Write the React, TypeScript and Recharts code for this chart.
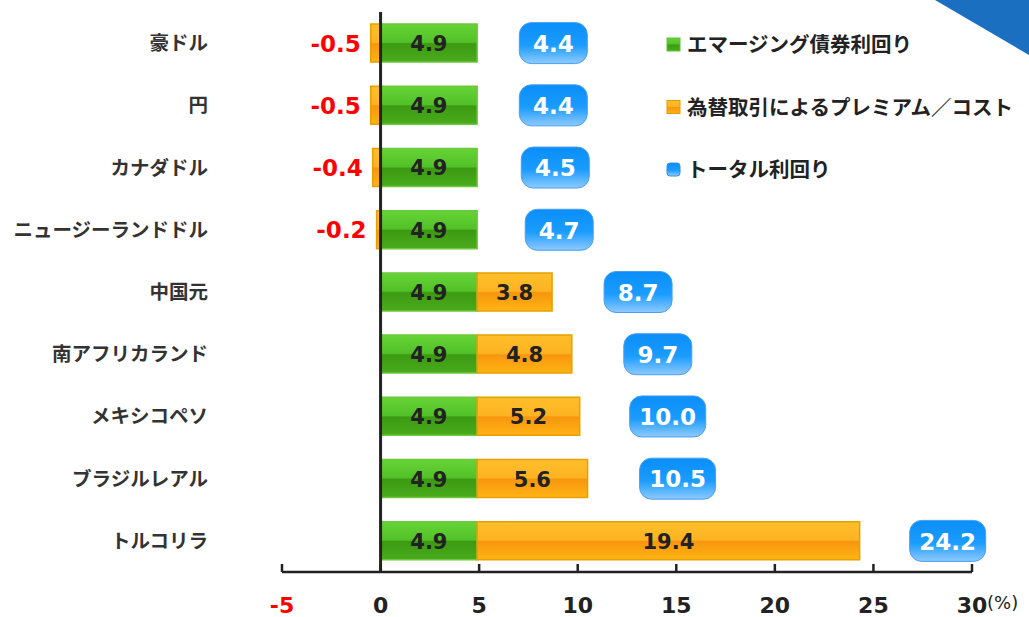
import React from 'react';
import { ComposedChart, Bar, XAxis, YAxis, ReferenceLine, LabelList, Scatter } from 'recharts';

const categories = ['豪ドル', '円', 'カナダドル', 'ニュージーランドドル', '中国元', '南アフリカランド', 'メキシコペソ', 'ブラジルレアル', 'トルコリラ'];
const bondYield = [4.9, 4.9, 4.9, 4.9, 4.9, 4.9, 4.9, 4.9, 4.9];
const fxPremium = [-0.5, -0.5, -0.4, -0.2, 3.8, 4.8, 5.2, 5.6, 19.4];
const totalYield = [4.4, 4.4, 4.5, 4.7, 8.7, 9.7, 10.0, 10.5, 24.2];
const xTicks = [-5, 0, 5, 10, 15, 20, 25, 30];
const seriesNames = ['エマージング債券利回り', '為替取引によるプレミアム／コスト', 'トータル利回り'];

const data = categories.map((name, i) => ({
  name,
  bond: bondYield[i],
  fx: fxPremium[i],
  total: totalYield[i],
}));

const FONT = "'DejaVu Sans', 'Noto Sans CJK JP', sans-serif";
const JFONT = "'Noto Sans CJK JP', sans-serif";

const YTick = (props: any) => {
  const { x, y, payload } = props;
  return (
    <text x={x} y={y} dy="0.36em" textAnchor="end" fontFamily={JFONT} fontWeight={700} fontSize={19.5} fill="#333">
      {payload.value}
    </text>
  );
};

const XTick = (props: any) => {
  const { x, y, payload } = props;
  const v = payload.value;
  return (
    <g>
      <line x1={x} x2={x} y1={y - 8} y2={y} stroke="#222" strokeWidth={2.5} />
      <text x={x} y={y + 33} dy="0.36em" textAnchor="middle" fontFamily={FONT} fontWeight={700} fontSize={22} fill={v < 0 ? '#ff0000' : '#222'}>
        {v}
      </text>
    </g>
  );
};

const BondLabel = (props: any) => {
  const { x, y, width, height, value } = props;
  return (
    <text x={x + width / 2} y={y + height / 2} dy="0.38em" textAnchor="middle" fontFamily={FONT} fontWeight={700} fontSize={21} fill="#222">
      {Number(value).toFixed(1)}
    </text>
  );
};

const FxLabel = (props: any) => {
  const { x, y, width, height, value } = props;
  const left = Math.min(x, x + width);
  if (value < 0) {
    return (
      <text x={left - 10} y={y + height / 2} dy="0.38em" textAnchor="end" fontFamily={FONT} fontWeight={700} fontSize={23} fill="#ff0000">
        {Number(value).toFixed(1)}
      </text>
    );
  }
  return (
    <text x={x + width / 2} y={y + height / 2} dy="0.38em" textAnchor="middle" fontFamily={FONT} fontWeight={700} fontSize={21} fill="#222">
      {Number(value).toFixed(1)}
    </text>
  );
};

const TotalShape = (props: any) => {
  const { cx, cy, payload } = props;
  if (cx == null || cy == null) return null;
  const label = Number(payload.total).toFixed(1);
  const w = label.length > 3 ? 76 : 68;
  const h = 41;
  const left = cx + 52;
  return (
    <g>
      <rect x={left} y={cy - h / 2} width={w} height={h} rx={12} ry={12} fill="url(#gBlue)" stroke="#4a9ff0" strokeWidth={1} />
      <text x={left + w / 2} y={cy} dy="0.38em" textAnchor="middle" fontFamily={FONT} fontWeight={700} fontSize={23} fill="#fff">
        {label}
      </text>
    </g>
  );
};

const Gradients = () => (
  <defs>
    <linearGradient id="gGreen" x1="0" y1="0" x2="0" y2="1">
      <stop offset="0%" stopColor="#66d436" />
      <stop offset="48%" stopColor="#52c128" />
      <stop offset="52%" stopColor="#3c9a12" />
      <stop offset="100%" stopColor="#4aab1c" />
    </linearGradient>
    <linearGradient id="gOrange" x1="0" y1="0" x2="0" y2="1">
      <stop offset="0%" stopColor="#ffbf2a" />
      <stop offset="48%" stopColor="#fdb322" />
      <stop offset="52%" stopColor="#f8960e" />
      <stop offset="100%" stopColor="#ffb414" />
    </linearGradient>
    <linearGradient id="gBlue" x1="0" y1="0" x2="0" y2="1">
      <stop offset="0%" stopColor="#0a8ef8" />
      <stop offset="55%" stopColor="#1a9cff" />
      <stop offset="100%" stopColor="#8fcaff" />
    </linearGradient>
  </defs>
);

const LegendOverlay = () => {
  const fills = ['url(#gGreen)', 'url(#gOrange)', 'url(#gBlue)'];
  const strokes = ['#5fc234', '#e39c00', '#3a8ee0'];
  return (
    <g transform="translate(666, 37)">
      {seriesNames.map((n, i) => (
        <g key={n} transform={`translate(0, ${i * 62.5})`}>
          <rect x={1} y={1} width={13} height={13} rx={i === 2 ? 3 : 0} fill={fills[i]} stroke={strokes[i]} strokeWidth={1} />
          <text x={21} y={8} dy="0.36em" fontFamily={JFONT} fontWeight={700} fontSize={20.5} fill="#222">{n}</text>
        </g>
      ))}
    </g>
  );
};

export default function App() {
  return (
    <div style={{ position: 'absolute', left: 0, top: 0, width: 1029, height: 617, background: '#fff' }}>
      <ComposedChart
        width={1029}
        height={617}
        data={data}
        layout="vertical"
        stackOffset="sign"
        margin={{ top: 12, right: 57, bottom: 0, left: 0 }}
        barCategoryGap={24}
      >
        <Gradients />
        <XAxis
          type="number"
          domain={[-5, 30]}
          ticks={xTicks}
          axisLine={{ stroke: '#222', strokeWidth: 2.5 }}
          tickLine={false}
          tickSize={0}
          tickMargin={0}
          tick={<XTick />}
          height={45}
          interval={0}
        />
        <XAxis xAxisId="t" type="number" dataKey="total" domain={[-5, 30]} hide />
        <YAxis
          type="category"
          dataKey="name"
          width={282}
          axisLine={false}
          tickLine={false}
          tickSize={0}
          tickMargin={74}
          tick={<YTick />}
          interval={0}
        />
        <Bar dataKey="bond" name={seriesNames[0]} stackId="s" barSize={38} fill="url(#gGreen)" stroke="#6cc83c" strokeWidth={1.5} isAnimationActive={false}>
          <LabelList dataKey="bond" content={<BondLabel />} />
        </Bar>
        <Bar dataKey="fx" name={seriesNames[1]} stackId="s" barSize={38} fill="url(#gOrange)" stroke="#e6a000" strokeWidth={1.5} isAnimationActive={false}>
          <LabelList dataKey="fx" content={<FxLabel />} />
        </Bar>
        <ReferenceLine x={0} stroke="#222" strokeWidth={3} />
        <Scatter xAxisId="t" dataKey="total" name={seriesNames[2]} shape={<TotalShape />} isAnimationActive={false} />
      </ComposedChart>
      <svg width={1029} height={617} style={{ position: 'absolute', left: 0, top: 0, pointerEvents: 'none' }}>
        <Gradients />
        <polygon points="935,0 1029,0 1029,55" fill="#1a6fc0" />
        <LegendOverlay />
        <text x={987} y={603} dy="0.36em" fontFamily={FONT} fontSize={18} fill="#222">(%)</text>
      </svg>
    </div>
  );
}
